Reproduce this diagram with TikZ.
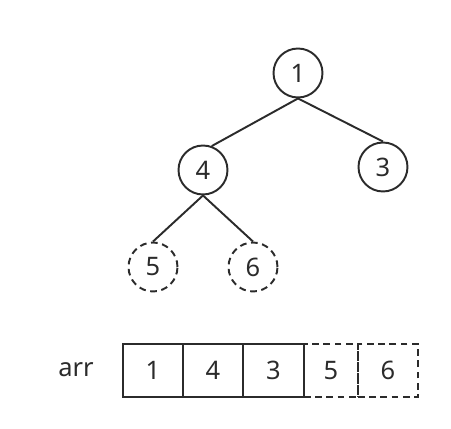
\documentclass[tikz,border=0pt]{standalone}
\usepackage{fontspec}
\setmainfont{Noto Sans}
\usepackage{tikz}
\usetikzlibrary{positioning}
\definecolor{hLine}{HTML}{2B2B2B}
\tikzset{
  heap/.style ={circle,draw=hLine,line width=1.1pt,text=hLine,inner sep=0pt,minimum size=0.98cm},
  ghost/.style={heap,dash pattern=on 3.8pt off 2.6pt},
  cell/.style ={rectangle,draw=hLine,line width=1.1pt,text=hLine,inner sep=0pt,minimum height=1.06cm},
  gcell/.style={cell,dash pattern=on 3.8pt off 2.6pt},
  link/.style ={draw=hLine,line width=1.1pt},
}

\begin{document}
\begin{tikzpicture}[x=0.02cm,y=-0.02cm,font=\fontsize{14.5}{17}\selectfont]
  \useasboundingbox (0,0) rectangle (451,429);
  % tree
  \node[heap]  (n1) at (298,73)  {1};
  \node[heap]  (n4) at (203,170) {4};
  \node[heap]  (n3) at (383,167) {3};
  \node[ghost] (n5) at (153,267) {5};
  \node[ghost] (n6) at (253,267) {6};

  \draw[link] (n1.south) -- (n4.70);
  \draw[link] (n1.south) -- (n3.north);
  \draw[link] (n4.south) -- (n5.north);
  \draw[link] (n4.south) -- (n6.north);

  % array
  \node[text=hLine] (arr) at (76,370) {arr};
  \node[gcell,minimum width=1.08cm] (a5) at (331,370.5) {5};
  \node[gcell,minimum width=1.2cm]  (a6) at (388,370.5) {6};
  \node[cell,minimum width=1.2cm]   (a1) at (153,370.5) {1};
  \node[cell,minimum width=1.2cm]   (a4) at (213,370.5) {4};
  \node[cell,minimum width=1.22cm]  (a3) at (273.5,370.5) {3};
\end{tikzpicture}
\end{document}
